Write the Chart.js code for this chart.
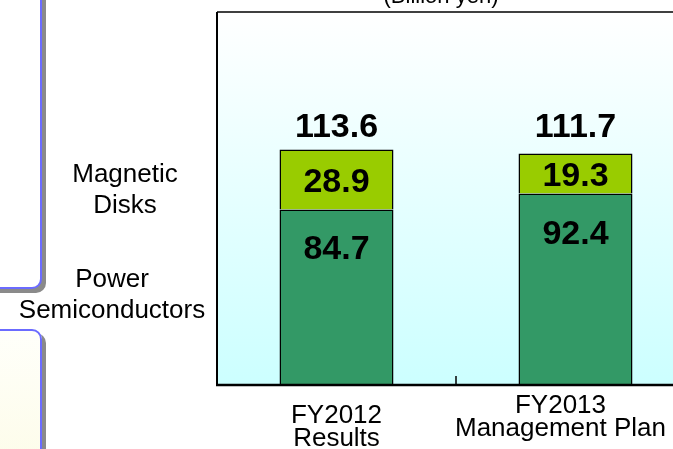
<!DOCTYPE html>
<html>
<head>
<meta charset="utf-8">
<script src="https://cdn.jsdelivr.net/npm/chart.js@4.4.0/dist/chart.umd.min.js"></script>
<style>
  html, body { margin: 0; padding: 0; background: #fff; }
  body { width: 673px; height: 449px; overflow: hidden; position: relative; }
  .side-box {
    position: absolute; left: -30px; width: 71.5px; box-sizing: border-box;
    border: 2px solid #6b6bff; border-radius: 10px; box-shadow: 4px 4px 0 #8a8a8a;
  }
  #box-top { top: -30px; height: 319px; background: #fff; }
  #box-bottom { top: 329px; height: 200px; background: linear-gradient(180deg, #fffffa 0%, #fcfbe2 100%); }
  #chart { position: absolute; left: 0; top: 0; }
</style>
</head>
<body>
<div class="side-box" id="box-top"></div>
<div class="side-box" id="box-bottom"></div>
<canvas id="chart" width="720" height="449"></canvas>
<script>
// ─── DATA ─────────────────────────────────────────────────────────────────
const categories = [['FY2012', 'Results'], ['FY2013', 'Management Plan']];
const powerSemis = [84.7, 92.4];
const magneticDisks = [28.9, 19.3];
const totals = [113.6, 111.7];
const seriesNames = [['Power', 'Semiconductors'], ['Magnetic', 'Disks']];
const unitLabel = '(Billion yen)';
const yMax = 180;

const FONT = '"Liberation Sans", Arial, sans-serif';
const GREEN = '#339966';
const LIME = '#99cc00';

// background gradient + frame of the plot
const framePlugin = {
  id: 'frame',
  beforeDatasetsDraw(chart) {
    const { ctx, chartArea: a } = chart;
    const g = ctx.createLinearGradient(0, a.top, 0, a.bottom);
    g.addColorStop(0, '#ffffff');
    g.addColorStop(1, '#ccffff');
    ctx.save();
    ctx.fillStyle = g;
    ctx.fillRect(a.left, a.top, a.right - a.left, a.bottom - a.top);
    ctx.restore();
  },
  afterDraw(chart) {
    const { ctx, chartArea: a, scales } = chart;
    ctx.save();
    ctx.strokeStyle = '#000';
    ctx.lineWidth = 1.5;
    ctx.beginPath(); ctx.moveTo(a.left, a.top); ctx.lineTo(a.right + 5, a.top); ctx.stroke();
    ctx.lineWidth = 2;
    ctx.beginPath(); ctx.moveTo(a.left, a.top); ctx.lineTo(a.left, a.bottom); ctx.stroke();
    ctx.lineWidth = 2.5;
    ctx.beginPath(); ctx.moveTo(a.left - 1, a.bottom); ctx.lineTo(a.right + 5, a.bottom); ctx.stroke();
    // inner tick between the two categories
    const mid = (scales.x.getPixelForValue(0) + scales.x.getPixelForValue(1)) / 2;
    ctx.lineWidth = 1.5;
    ctx.beginPath(); ctx.moveTo(mid, a.bottom); ctx.lineTo(mid, a.bottom - 9); ctx.stroke();

    // category labels under the axis
    ctx.fillStyle = '#000';
    ctx.font = `26px ${FONT}`;
    ctx.textAlign = 'center';
    ctx.textBaseline = 'alphabetic';
    const nudge = [{ dx: 0, dy: 0 }, { dx: -15, dy: -10 }];
    categories.forEach((lines, i) => {
      const px = scales.x.getPixelForValue(i) + nudge[i].dx;
      lines.forEach((t, j) => ctx.fillText(t, px, a.bottom + 38 + nudge[i].dy + j * 23));
    });

    // series names on the left, next to the first bar's segments
    const low = chart.getDatasetMeta(0).data[0];
    const up = chart.getDatasetMeta(1).data[0];
    const magY = (up.y + up.base) / 2 + 2;
    seriesNames[1].forEach((t, j) => ctx.fillText(t, 125, magY + j * 31));
    const powY = (low.y + low.base) / 2 - 10;
    seriesNames[0].forEach((t, j) => ctx.fillText(t, 112, powY + j * 31));

    // unit label, clipped at the top
    ctx.font = `22px ${FONT}`;
    ctx.fillText(unitLabel, 441, 3);
    ctx.restore();
  }
};

// value labels on and above the bars
const valuePlugin = {
  id: 'values',
  afterDatasetsDraw(chart) {
    const { ctx } = chart;
    const lower = chart.getDatasetMeta(0).data;
    const upper = chart.getDatasetMeta(1).data;
    ctx.save();
    ctx.fillStyle = '#000';
    ctx.font = `bold 34px ${FONT}`;
    ctx.textAlign = 'center';
    ctx.textBaseline = 'alphabetic';
    const topMost = Math.min(...upper.map(b => b.y));
    lower.forEach((b, i) => {
      ctx.fillText(powerSemis[i].toFixed(1), b.x, b.y + 50);
      const u = upper[i];
      ctx.fillText(magneticDisks[i].toFixed(1), u.x, (u.y + u.base) / 2 + 12);
      ctx.fillText(totals[i].toFixed(1), u.x, topMost - 13);
    });
    ctx.restore();
  }
};

new Chart(document.getElementById('chart'), {
  type: 'bar',
  data: {
    labels: categories,
    datasets: [
      { label: seriesNames[0].join(' '), data: powerSemis, backgroundColor: GREEN, borderColor: '#000', borderWidth: 1.5, borderSkipped: 'start' },
      { label: seriesNames[1].join(' '), data: magneticDisks, backgroundColor: LIME, borderColor: '#000', borderWidth: 1.5, borderSkipped: 'start' }
    ]
  },
  options: {
    responsive: false,
    animation: false,
    layout: { padding: { left: 217, top: 12, right: 25, bottom: 64 } },
    datasets: { bar: { categoryPercentage: 1, barPercentage: 0.477 } },
    plugins: { legend: { display: false }, tooltip: { enabled: false } },
    scales: {
      x: { stacked: true, display: false },
      y: { stacked: true, display: false, min: 0, max: yMax }
    }
  },
  plugins: [framePlugin, valuePlugin]
});
</script>
</body>
</html>
